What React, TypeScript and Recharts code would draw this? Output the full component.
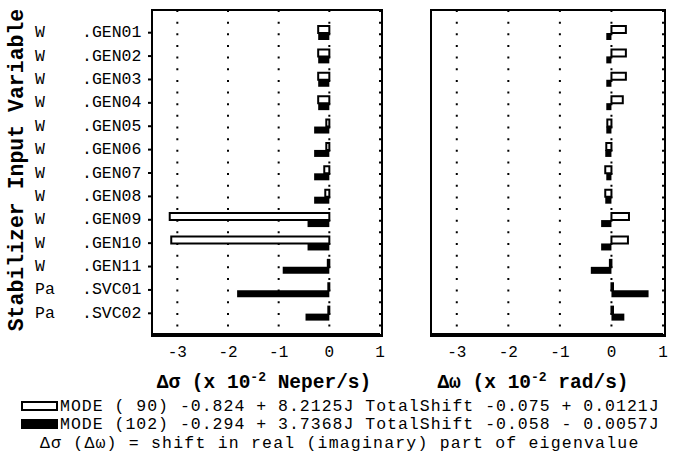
import React from "react";
import { BarChart, Bar, XAxis, YAxis, CartesianGrid } from "recharts";

// rows of the sensitivity table
const categories = ["GEN01", "GEN02", "GEN03", "GEN04", "GEN05", "GEN06", "GEN07", "GEN08", "GEN09", "GEN10", "GEN11", "SVC01", "SVC02"];
const prefixes = ["W", "W", "W", "W", "W", "W", "W", "W", "W", "W", "W", "Pa", "Pa"];

// delta sigma (x 10^-2 Neper/s)
const sigmaMode90 = [-0.22, -0.22, -0.22, -0.22, -0.06, -0.06, -0.1, -0.08, -3.15, -3.12, -0.03, -0.02, -0.02];
const sigmaMode102 = [-0.22, -0.22, -0.22, -0.22, -0.3, -0.3, -0.3, -0.3, -0.43, -0.43, -0.92, -1.82, -0.47];

// delta omega (x 10^-2 rad/s)
const omegaMode90 = [0.28, 0.28, 0.28, 0.22, -0.08, -0.1, -0.12, -0.12, 0.34, 0.32, -0.03, 0.03, 0.03];
const omegaMode102 = [-0.1, -0.1, -0.1, -0.1, -0.1, -0.12, -0.1, -0.12, -0.2, -0.2, -0.4, 0.72, 0.25];

const xTicks = [-3, -2, -1, 0, 1];
const xDomain: [number, number] = [-3.5, 1];

const FONT = "'Courier New', 'Liberation Mono', monospace";
const AXIS = { stroke: "#000", strokeWidth: 2 };
const PAD = { top: 11, bottom: 9 };

const sigmaData = categories.map((name, i) => ({ name, mode90: sigmaMode90[i], mode102: sigmaMode102[i] }));
const omegaData = categories.map((name, i) => ({ name, mode90: omegaMode90[i], mode102: omegaMode102[i] }));

function RowLabel(props: any) {
  const { y, payload } = props;
  const idx = categories.indexOf(payload.value);
  return (
    <g fontFamily={FONT} fontSize={16.5} fill="#000">
      <text x={35} y={y} dominantBaseline="central">{prefixes[idx]}</text>
      <text x={82} y={y} dominantBaseline="central">.{payload.value}</text>
    </g>
  );
}

function Panel({ data, width, yAxisWidth, labels }: { data: any[]; width: number; yAxisWidth: number; labels: boolean }) {
  return (
    <BarChart
      layout="vertical"
      width={width}
      height={364}
      data={data}
      margin={{ top: 10, right: 10, bottom: 0, left: 0 }}
      barGap={0}
      barCategoryGap={0}
    >
      <CartesianGrid horizontal={false} stroke="#000" strokeWidth={2} strokeDasharray="2 9.65" />
      <XAxis
        type="number"
        domain={xDomain}
        ticks={xTicks}
        allowDataOverflow
        height={30}
        axisLine={AXIS}
        tickLine={AXIS}
        tickSize={3}
        tickMargin={9}
        tick={{ fontFamily: FONT, fontSize: 16, fill: "#000" }}
      />
      <YAxis
        type="category"
        dataKey="name"
        width={yAxisWidth}
        padding={PAD}
        axisLine={AXIS}
        tickLine={AXIS}
        tickSize={4}
        tick={labels ? <RowLabel /> : false}
      />
      <Bar dataKey="mode90" fill="#fff" stroke="#000" strokeWidth={2} barSize={7} isAnimationActive={false} />
      <Bar dataKey="mode102" fill="#000" barSize={7} isAnimationActive={false} />
    </BarChart>
  );
}

const frame = (left: number, width: number): React.CSSProperties => ({
  position: "absolute",
  left: left - 1,
  top: 9,
  width: width,
  height: 324,
  border: "2px solid #000",
  pointerEvents: "none",
});

export default function App() {
  return (
    <div style={{ position: "absolute", left: 0, top: 0, width: 673, height: 468, background: "#fff" }}>
      <div style={{ position: "absolute", left: 0, top: 0 }}>
        <Panel data={sigmaData} width={390} yAxisWidth={152} labels />
      </div>
      <div style={{ position: "absolute", left: 400, top: 0 }}>
        <Panel data={omegaData} width={273} yAxisWidth={31} labels={false} />
      </div>
      <div style={frame(152, 228)} />
      <div style={frame(431, 232)} />
      <svg width={673} height={468} style={{ position: "absolute", left: 0, top: 0, pointerEvents: "none" }}>
        <g fontFamily={FONT} fill="#000">
          <text
            x={17}
            y={170}
            transform="rotate(-90 17 170)"
            textAnchor="middle"
            dominantBaseline="central"
            fontWeight="bold"
            fontSize={21.5}
          >
            Stabilizer Input Variable
          </text>
          <text x={264} y={388} textAnchor="middle" fontWeight="bold" fontSize={19.5}>
            Δσ (x 10<tspan dy={-7} fontSize={13}>-2</tspan>
            <tspan dy={7}> Neper/s)</tspan>
          </text>
          <text x={533} y={388} textAnchor="middle" fontWeight="bold" fontSize={19.5}>
            Δω (x 10<tspan dy={-7} fontSize={13}>-2</tspan>
            <tspan dy={7}> rad/s)</tspan>
          </text>
          <rect x={22} y={402} width={35} height={8} fill="#fff" stroke="#000" strokeWidth={2} />
          <text x={60} y={411} fontSize={16.5} letterSpacing={1} style={{ whiteSpace: "pre" }}>
            MODE ( 90) -0.824 + 8.2125J TotalShift -0.075 + 0.0121J
          </text>
          <rect x={21} y={419} width={37} height={10} fill="#000" />
          <text x={60} y={429} fontSize={16.5} letterSpacing={1} style={{ whiteSpace: "pre" }}>
            MODE (102) -0.294 + 3.7368J TotalShift -0.058 - 0.0057J
          </text>
          <text x={40} y={447.5} fontSize={16.5} letterSpacing={1.2} style={{ whiteSpace: "pre" }}>
            Δσ (Δω) = shift in real (imaginary) part of eigenvalue
          </text>
        </g>
      </svg>
    </div>
  );
}
